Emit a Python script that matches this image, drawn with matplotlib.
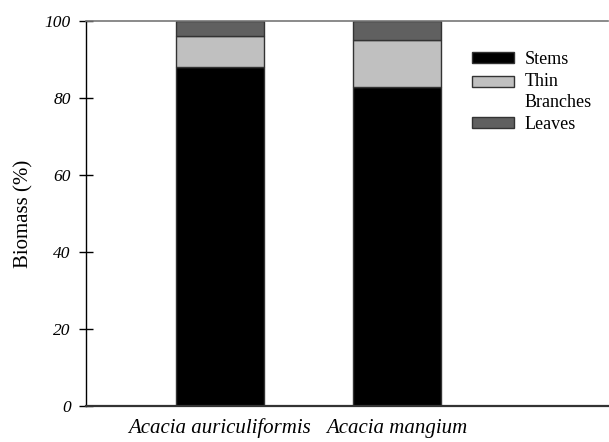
import matplotlib
matplotlib.use("Agg")
import matplotlib.pyplot as plt
import matplotlib.patches as mpatches
from matplotlib.legend_handler import HandlerPatch
import numpy as np
from matplotlib.patches import Patch

categories = ["Acacia auriculiformis", "Acacia mangium"]
stems = [88.1, 82.8]
thin_branches = [8.0, 12.3]
leaves = [3.9, 4.9]
yticks = [0, 20, 40, 60, 80, 100]

plt.rcParams['font.family'] = ['Liberation Serif', 'DejaVu Serif']


class ShiftedHandler(HandlerPatch):
    def __init__(self, dy, **kw):
        super().__init__(**kw)
        self.dy = dy

    def _create_patch(self, legend, orig_handle, xdescent, ydescent,
                      width, height, fontsize):
        return mpatches.Rectangle(xy=(-xdescent, -ydescent + self.dy),
                                  width=width, height=height)


fig = plt.figure(figsize=(6.09, 4.42), dpi=100)
ax = fig.add_axes([86/609, 36/442, 522/609, 385/442])

x = np.arange(len(categories))
w = 0.5
edge = '#333333'
ax.bar(x, stems, w, color='black', edgecolor=edge, linewidth=1.0)
ax.bar(x, thin_branches, w, bottom=stems, color='#c0c0c0', edgecolor=edge, linewidth=1.0)
b2 = np.array(stems) + np.array(thin_branches)
ax.bar(x, leaves, w, bottom=b2, color='#606060', edgecolor=edge, linewidth=1.0)

ax.set_xlim(-0.755, 2.19)
ax.set_ylim(0, 100)
ax.set_yticks(yticks)
ax.set_yticklabels([str(t) for t in yticks], fontstyle='italic', fontsize=12.5)
ax.set_xticks(x)
ax.set_xticklabels(categories, fontstyle='italic', fontsize=15)
ax.tick_params(axis='x', length=0, pad=9)
ax.tick_params(axis='y', direction='inout', length=10, width=1.0, pad=6)
ax.set_ylabel('Biomass (%)', fontsize=15, labelpad=8)

ax.spines['right'].set_visible(False)
ax.spines['top'].set_color('#777777')
ax.spines['top'].set_linewidth(1.2)
ax.spines['bottom'].set_color('#333333')
ax.spines['bottom'].set_linewidth(1.6)
ax.spines['left'].set_color('black')
ax.spines['left'].set_linewidth(1.0)

h_stem = Patch(facecolor='black', edgecolor=edge, label='Stems')
h_thin = Patch(facecolor='#c0c0c0', edgecolor=edge, label='Thin\nBranches')
h_leaf = Patch(facecolor='#606060', edgecolor=edge, label='Leaves')
leg = ax.legend(handles=[h_stem, h_thin, h_leaf], loc='upper left',
                bbox_to_anchor=(0.7395, 0.922),
                handler_map={h_thin: ShiftedHandler(7.5)},
                frameon=False, fontsize=13, handlelength=2.3, handleheight=0.55,
                handletextpad=0.6, labelspacing=0.25, borderaxespad=0, borderpad=0)
for t in leg.get_texts():
    t.set_linespacing(1.35)

fig.savefig('out.png', dpi=100)
